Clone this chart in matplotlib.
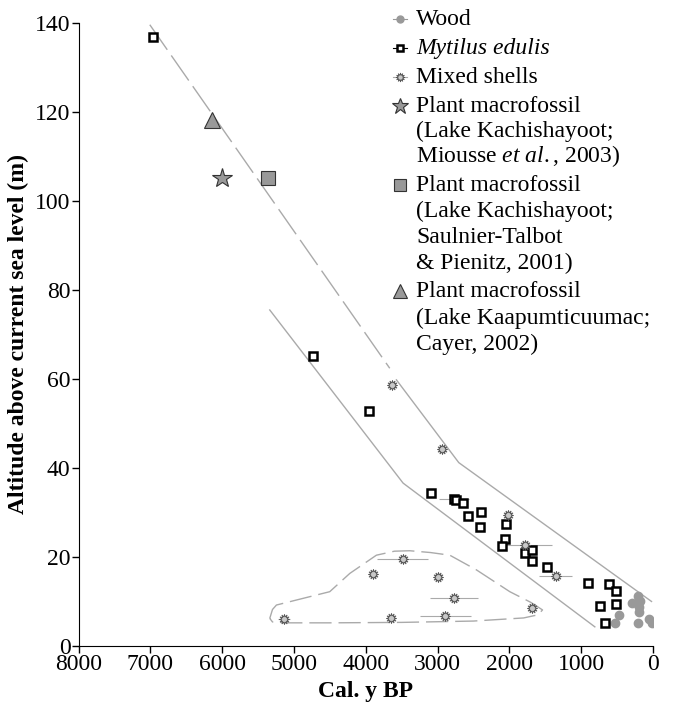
import matplotlib
matplotlib.use('Agg')
import matplotlib.pyplot as plt
from matplotlib.lines import Line2D

plt.rcParams['font.family'] = ['Liberation Serif', 'DejaVu Serif']
plt.rcParams['mathtext.fontset'] = 'custom'
plt.rcParams['mathtext.rm'] = 'Liberation Serif'
plt.rcParams['mathtext.it'] = 'Liberation Serif:italic'

# radiocarbon dates (cal. y BP) vs altitude (m)
wood_age = [213, 181, 293, 199, 199, 470, 530, 213, 51, 18]
wood_alt = [11.2, 10.2, 9.6, 8.7, 7.7, 7.0, 5.2, 5.2, 6.0, 5.1]
wood_err = [40, 40, 40, 40, 40, 40, 40, 40, 40, 40]

mytilus_age = [6970, 4739, 3958, 3098, 2773, 2745, 2652, 2574, 2388, 2407, 2044, 2053,
               2095, 1784, 1690, 1690, 1473, 902, 617, 511, 729, 516, 664]
mytilus_alt = [136.9, 65.2, 52.8, 34.4, 33.0, 32.7, 32.2, 29.2, 30.2, 26.8, 27.4, 24.0,
               22.5, 20.8, 21.6, 19.2, 17.7, 14.1, 13.9, 12.3, 9.0, 9.4, 5.1]
mytilus_err = [0, 50, 0, 40, 210, 40, 40, 40, 40, 40, 40, 40,
               40, 40, 40, 40, 40, 40, 40, 40, 40, 40, 40]

mixed_age = [3634, 2941, 2017, 1784, 1352, 3488, 3898, 2987, 2769, 1677, 2890, 3643, 5138]
mixed_alt = [58.6, 44.2, 29.4, 22.6, 15.7, 19.5, 16.1, 15.4, 10.7, 8.5, 6.7, 6.3, 6.1]
mixed_err = [40, 40, 40, 380, 230, 350, 40, 40, 330, 40, 360, 40, 80]

star_age, star_alt = [6007], [105.2]
gsquare_age, gsquare_alt = [5366], [105.2]
tri_age, tri_alt = [6146], [118.2]

# interpreted curves
dashed_age = [7010, 3666]
dashed_alt = [139.6, 62.4]
upper_age = [3573, 2704, 18]
upper_alt = [59.8, 41.2, 10.0]
lower_age = [5338, 3480, 808]
lower_alt = [75.5, 36.6, 4.3]
env_age = [5338, 5300, 5245, 4874, 4502, 4223, 3852, 3600, 3387, 3100, 2829, 2458, 1993,
           1700, 1537, 1600, 1800, 2500, 3500, 4500, 5100, 5300, 5338]
env_alt = [6.2, 8.2, 9.2, 10.7, 12.2, 16.3, 20.4, 21.3, 21.4, 21.0, 20.4, 17.1, 12.2,
           9.8, 8.1, 7.0, 6.3, 5.6, 5.3, 5.2, 5.2, 5.4, 6.2]

leg_labels = [
    ['Wood'],
    ['Mytilus edulis'],
    ['Mixed shells'],
    ['Plant macrofossil', '(Lake Kachishayoot;', r'Miousse $\it{et\ al.}$, 2003)'],
    ['Plant macrofossil', '(Lake Kachishayoot;', 'Saulnier-Talbot', '& Pienitz, 2001)'],
    ['Plant macrofossil', '(Lake Kaapumticuumac;', 'Cayer, 2002)'],
]

fig = plt.figure(figsize=(6.73, 7.08), dpi=100)
ax = fig.add_axes([0.117, 0.0876, 0.853, 0.88])

lc = '#aaaaaa'
ax.plot(dashed_age, dashed_alt, color=lc, lw=1, dashes=(22, 5))
ax.plot(upper_age, upper_alt, color=lc, lw=1)
ax.plot(lower_age, lower_alt, color=lc, lw=1)
ax.plot(env_age, env_alt, color=lc, lw=1, dashes=(16, 5))

wood_style = dict(marker='o', ms=6, mfc='#999999', mec='#999999')
myt_style = dict(marker='s', ms=5.5, mfc='white', mec='black', mew=1.8)
shell_style = dict(marker=(12, 1, 0), ms=7.5, mfc='#c8c8c8', mec='#555555', mew=0.6)
star_style = dict(marker='*', ms=15, mfc='#999999', mec='#333333', mew=0.8)
gsq_style = dict(marker='s', ms=10, mfc='#999999', mec='#333333', mew=0.8)
tri_style = dict(marker='^', ms=11, mfc='#999999', mec='#333333', mew=0.8)

ax.errorbar(wood_age, wood_alt, xerr=wood_err, fmt='none', ecolor='#999999',
            elinewidth=0.8, capsize=0, zorder=3)
ax.plot(wood_age, wood_alt, ls='none', zorder=3, **wood_style)
ax.errorbar(mytilus_age, mytilus_alt, xerr=mytilus_err, fmt='none', ecolor='#aaaaaa',
            elinewidth=0.8, capsize=0, zorder=3)
ax.plot(mytilus_age, mytilus_alt, ls='none', zorder=4, **myt_style)
ax.errorbar(mixed_age, mixed_alt, xerr=mixed_err, fmt='none', ecolor='#aaaaaa',
            elinewidth=0.8, capsize=0, zorder=3)
ax.plot(mixed_age, mixed_alt, ls='none', zorder=4, **shell_style)
ax.plot(star_age, star_alt, ls='none', **star_style)
ax.plot(gsquare_age, gsquare_alt, ls='none', **gsq_style)
ax.plot(tri_age, tri_alt, ls='none', **tri_style)

ax.set_xlim(8000, 0)
ax.set_ylim(0, 140)
ax.set_xticks(range(8000, -1, -1000))
ax.set_yticks(range(0, 141, 20))
ax.spines['top'].set_visible(False)
ax.spines['right'].set_visible(False)
ax.tick_params(labelsize=17, length=5, width=1, pad=1)
ax.set_xlabel('Cal. y BP', fontsize=17, fontweight='bold', labelpad=4)
ax.set_ylabel('Altitude above current sea level (m)', fontsize=17, fontweight='bold', labelpad=4)

# hand-placed legend (pixel rows of the reference)
W, H = 673.0, 708.0
mx, tx = 400, 416
rows = [[19], [48], [77], [106, 131, 156], [185, 211, 237, 263], [291, 318, 344]]
styles = [wood_style, myt_style, shell_style, star_style, gsq_style, tri_style]
legend_ms = [5, 5, 6.5, 12, 9, 10]
seg_colors = ['#999999', 'black', '#aaaaaa', None, None, None]
for lines, ys, st, ms, sc in zip(leg_labels, rows, styles, legend_ms, seg_colors):
    fy = 1 - ys[0] / H
    if sc is not None:
        fig.add_artist(Line2D([(mx - 7) / W, (mx + 7) / W], [fy, fy], color=sc, lw=0.8,
                              transform=fig.transFigure))
    s = dict(st)
    s['ms'] = ms
    fig.add_artist(Line2D([mx / W], [fy], ls='none', transform=fig.transFigure, **s))
    for i, (line, y) in enumerate(zip(lines, ys)):
        style = 'italic' if line == 'Mytilus edulis' else 'normal'
        fig.text(tx / W, 1 - (y + 6) / H, line, fontsize=17, fontstyle=style,
                 ha='left', va='baseline')

fig.savefig('out.png', dpi=100)
